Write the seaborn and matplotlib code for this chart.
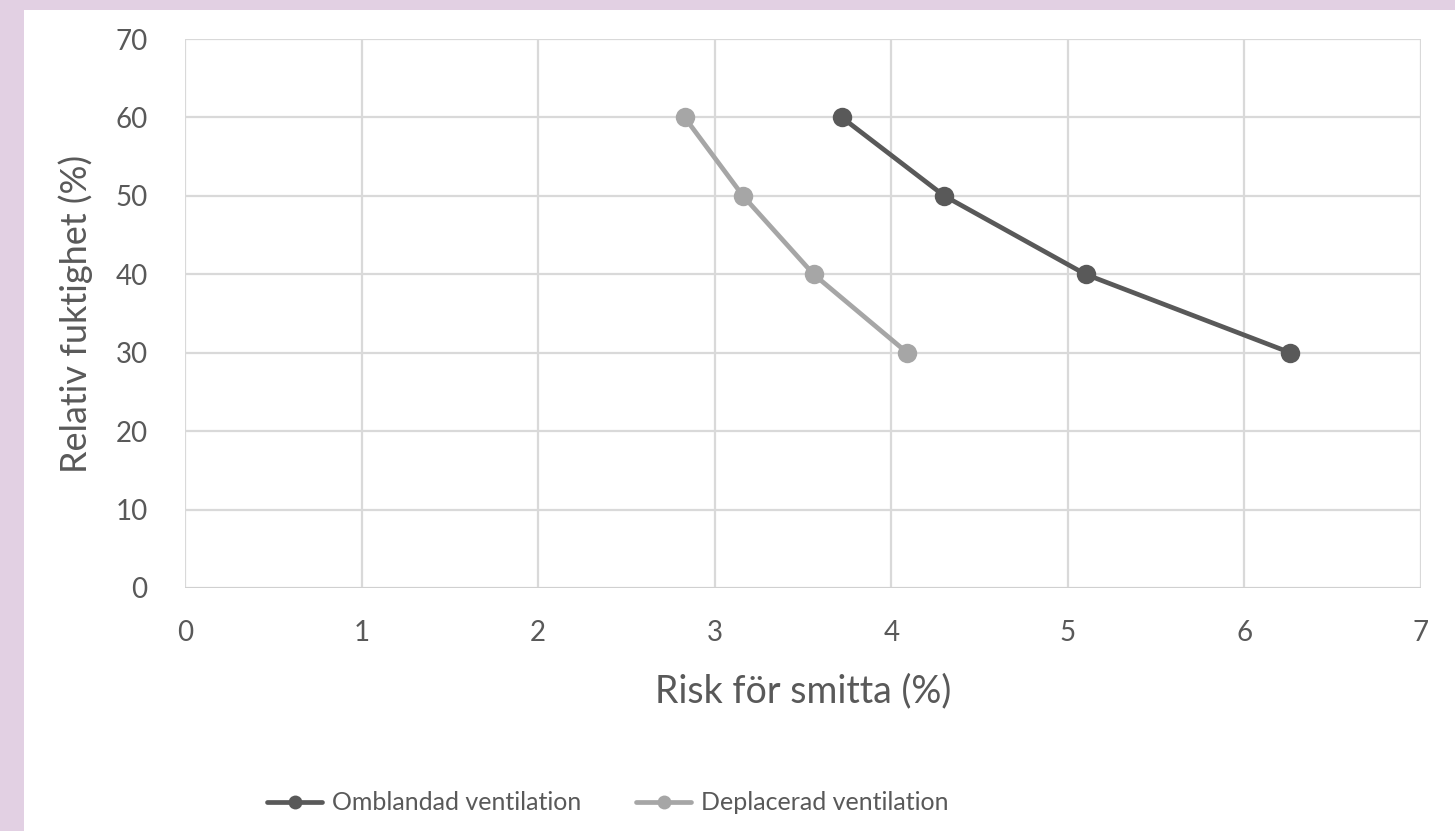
import matplotlib
matplotlib.use("Agg")
import matplotlib.pyplot as plt
import seaborn as sns
import pandas as pd
from matplotlib.patches import Rectangle

series_names = ["Omblandad ventilation", "Deplacerad ventilation"]
omblandad_x = [3.72, 4.30, 5.10, 6.26]
omblandad_y = [60, 50, 40, 30]
deplacerad_x = [2.83, 3.16, 3.56, 4.09]
deplacerad_y = [60, 50, 40, 30]
x_ticks = [0, 1, 2, 3, 4, 5, 6, 7]
y_ticks = [0, 10, 20, 30, 40, 50, 60, 70]
x_label = "Risk för smitta (%)"
y_label = "Relativ fuktighet (%)"

df = pd.DataFrame({
    "x": omblandad_x + deplacerad_x,
    "y": omblandad_y + deplacerad_y,
    "serie": [series_names[0]] * len(omblandad_x) + [series_names[1]] * len(deplacerad_x),
})

sns.set_theme(style="white")
plt.rcParams['font.family'] = ['Lato', 'DejaVu Sans']

W, H = 1455, 831
fig = plt.figure(figsize=(W / 100, H / 100), dpi=100, facecolor="#e2d0e3")
fig.patches.append(Rectangle((24 / W, 0), 1 - 24 / W, (H - 10) / H,
                             transform=fig.transFigure, facecolor="white",
                             edgecolor="none", zorder=-5))
ax = fig.add_axes([185 / W, (H - 588) / H, (1421 - 185) / W, (588 - 39) / H])
ax.set_facecolor("white")

palette = {series_names[0]: "#595959", series_names[1]: "#a6a6a6"}
sns.lineplot(data=df, x="x", y="y", hue="serie", palette=palette, sort=False,
             marker="o", markersize=14, markeredgewidth=0, linewidth=3.4,
             ax=ax, legend=True, zorder=3)

ax.set_xlim(0, 7)
ax.set_ylim(0, 70)
ax.set_xticks(x_ticks)
ax.set_yticks(y_ticks)
ax.grid(True, color="#d9d9d9", linewidth=1.6)
ax.set_axisbelow(True)
for s in ax.spines.values():
    s.set_visible(False)
ax.axhline(0, color="#d0d0d0", linewidth=2.0, zorder=1)
ax.tick_params(axis="both", length=0, labelsize=20, labelcolor="#595959")
ax.tick_params(axis="x", pad=23)
ax.tick_params(axis="y", pad=27)
ax.set_xlabel(x_label, fontsize=27, color="#595959", labelpad=20)
ax.set_ylabel(y_label, fontsize=26, color="#595959", labelpad=16)

handles, labels = ax.get_legend_handles_labels()
ax.get_legend().remove()
for h in handles:
    h.set_markersize(10)
fig.legend(handles, labels, loc="center", bbox_to_anchor=(608 / W, 1 - 803 / H),
           ncol=2, frameon=False, fontsize=18, handlelength=2.2,
           columnspacing=2.2, handletextpad=0.4, labelcolor="#595959")

fig.savefig("out.png", dpi=100, facecolor=fig.get_facecolor())
